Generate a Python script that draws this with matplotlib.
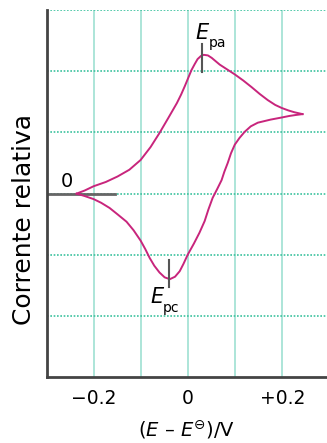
import matplotlib
matplotlib.use('Agg')
import matplotlib.pyplot as plt
import numpy as np

plt.rcParams['font.family'] = ['DejaVu Sans']
plt.rcParams['mathtext.fontset'] = 'dejavusans'

# forward (anodic) sweep
E_fwd = [-0.237, -0.220, -0.201, -0.175, -0.150, -0.125, -0.101, -0.080, -0.061,
         -0.042, -0.024, -0.015, -0.007, 0.000, 0.007, 0.014, 0.020, 0.027, 0.033,
         0.042, 0.050, 0.067, 0.083, 0.099, 0.117, 0.135, 0.152, 0.169, 0.185,
         0.199, 0.213, 0.226, 0.243]
I_fwd = [0.00, 0.05, 0.12, 0.19, 0.28, 0.39, 0.55, 0.76, 0.99,
         1.24, 1.48, 1.62, 1.76, 1.89, 2.02, 2.12, 2.20, 2.25, 2.27,
         2.26, 2.22, 2.11, 2.03, 1.95, 1.85, 1.74, 1.63, 1.53, 1.45,
         1.40, 1.36, 1.33, 1.30]

# reverse (cathodic) sweep
E_rev = [0.243, 0.228, 0.215, 0.199, 0.175, 0.148, 0.133, 0.120, 0.109, 0.099,
         0.091, 0.084, 0.077, 0.071, 0.062, 0.052, 0.043, 0.035, 0.024, 0.012,
         -0.001, -0.010, -0.018, -0.028, -0.039, -0.050, -0.061, -0.072, -0.082,
         -0.091, -0.101, -0.116, -0.131, -0.150, -0.167, -0.185, -0.201, -0.220,
         -0.237]
I_rev = [1.30, 1.285, 1.27, 1.245, 1.21, 1.16, 1.10, 1.01, 0.91, 0.80,
         0.66, 0.50, 0.36, 0.22, 0.08, -0.07, -0.26, -0.45, -0.64, -0.82,
         -1.00, -1.15, -1.27, -1.36, -1.40, -1.37, -1.29, -1.18, -1.05,
         -0.91, -0.77, -0.60, -0.46, -0.34, -0.235, -0.15, -0.09, -0.04,
         0.00]

E_pa, I_pa = 0.029, (1.99, 2.44)
E_pc, I_pc = -0.041, (-1.53, -1.08)

xticks = [-0.2, 0, 0.2]
xticklabels = ['\u22120.2', '0', '+0.2']

fig = plt.figure(figsize=(3.27, 4.43), dpi=100)
ax = fig.add_axes([0.1437, 0.149, 0.8563, 0.828])

for x in [-0.2, -0.1, 0, 0.1, 0.2]:
    ax.axvline(x, color='#a6e3d6', linewidth=1.3, zorder=1)
for y in [-2, -1, 0, 1, 2, 3]:
    ax.axhline(y, color='#3cc29e', linewidth=1.2, linestyle=(0, (1, 1)), zorder=1)

ax.plot([-0.3, -0.156], [0, 0], color='#666666', linewidth=2, zorder=2)
ax.plot(E_fwd, I_fwd, color='#c8257c', linewidth=1.4, zorder=3)
ax.plot(E_rev, I_rev, color='#c8257c', linewidth=1.4, zorder=3)

ax.plot([E_pa, E_pa], I_pa, color='#555555', linewidth=1.5, zorder=4)
ax.plot([E_pc, E_pc], I_pc, color='#555555', linewidth=1.5, zorder=4)

ax.text(0.030, 2.53, '$\\it{E}$', fontsize=15, ha='center', va='baseline')
ax.text(0.043, 2.40, 'pa', fontsize=10, ha='left', va='baseline')
ax.text(-0.065, -1.79, '$\\it{E}$', fontsize=15, ha='center', va='baseline')
ax.text(-0.055, -1.94, 'pc', fontsize=10, ha='left', va='baseline')
ax.text(-0.258, 0.10, '0', fontsize=14, ha='center', va='baseline')

ax.set_xlim(-0.3, 0.295)
ax.set_ylim(-3, 3)
ax.set_xticks(xticks)
ax.set_xticklabels(xticklabels, fontsize=13.5)
ax.set_yticks([])
ax.tick_params(axis='x', length=0, pad=9)

for s in ['top', 'right']:
    ax.spines[s].set_visible(False)
for s in ['left', 'bottom']:
    ax.spines[s].set_color('#444444')
    ax.spines[s].set_linewidth(2)

ax.set_xlabel('($\\it{E}$ \u2013 $\\it{E}^{\\ominus}$)/V', fontsize=14, labelpad=7)
ax.set_ylabel('Corrente relativa', fontsize=18)
ax.yaxis.set_label_coords(-0.04, 0.43)

fig.savefig('out.png', dpi=100)
